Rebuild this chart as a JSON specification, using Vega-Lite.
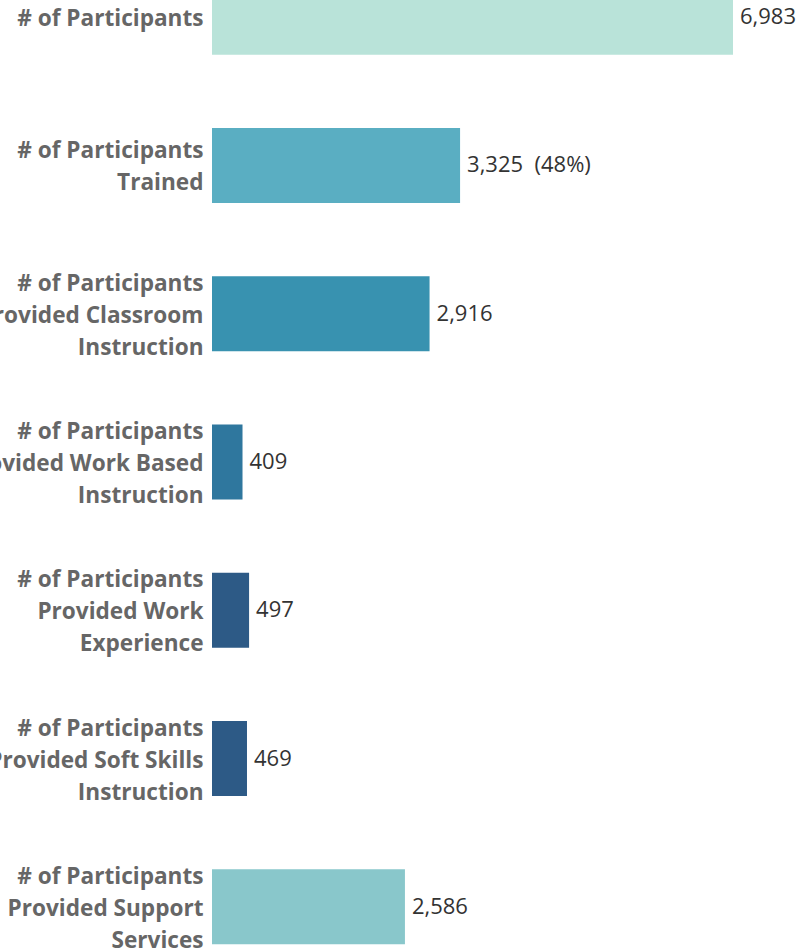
{
  "$schema": "https://vega.github.io/schema/vega-lite/v6.json",
  "autosize": "none",
  "padding": {"left": 212, "top": -57, "right": 67, "bottom": 0},
  "width": 521,
  "height": 1038,
  "background": "white",
  "config": {"view": {"stroke": null}},
  "data": {
    "values": [
      {"category": "# of Participants", "value": 6983, "text": "6,983", "color": "c1"},
      {"category": "# of Participants|Trained", "value": 3325, "text": "3,325\u00a0\u00a0(48%)", "color": "c2"},
      {"category": "# of Participants|Provided Classroom|Instruction", "value": 2916, "text": "2,916", "color": "c3"},
      {"category": "# of Participants|Provided Work Based|Instruction", "value": 409, "text": "409", "color": "c4"},
      {"category": "# of Participants|Provided Work|Experience", "value": 497, "text": "497", "color": "c5"},
      {"category": "# of Participants|Provided Soft Skills|Instruction", "value": 469, "text": "469", "color": "c6"},
      {"category": "# of Participants|Provided Support|Services", "value": 2586, "text": "2,586", "color": "c7"}
    ]
  },
  "encoding": {
    "y": {
      "field": "category",
      "type": "nominal",
      "sort": null,
      "scale": {"paddingInner": 0.494, "paddingOuter": 0.247},
      "axis": {
        "title": null,
        "domain": false,
        "ticks": false,
        "labelPadding": 9,
        "labelExpr": "split(datum.value, '|')",
        "labelFont": "Open Sans",
        "labelFontWeight": "bold",
        "labelFontSize": 22.6,
        "labelLineHeight": 32,
        "labelColor": "#666666",
        "labelLimit": 0,
        "labelOffset": {"expr": "-(length(split(datum.value, '|')) - 1) * 16 + 2"}
      }
    },
    "x": {
      "field": "value",
      "type": "quantitative",
      "scale": {"domain": [0, 6983], "nice": false},
      "axis": null
    }
  },
  "layer": [
    {
      "mark": {"type": "bar"},
      "encoding": {
        "color": {
          "field": "color",
          "type": "nominal",
          "scale": {
            "domain": ["c1", "c2", "c3", "c4", "c5", "c6", "c7"],
            "range": ["#b9e3d9", "#5aaec2", "#3892b0", "#2f779e", "#2d5a86", "#2d5a86", "#89c7cb"]
          },
          "legend": null
        }
      }
    },
    {
      "mark": {"type": "text", "align": "left", "baseline": "middle", "dx": 7, "font": "Open Sans", "fontSize": 22, "color": "#333333"},
      "encoding": {"text": {"field": "text"}}
    }
  ]
}
